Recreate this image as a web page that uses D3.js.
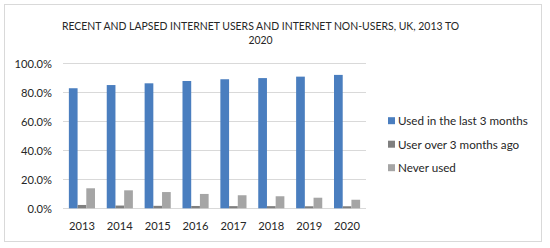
<!DOCTYPE html>
<html><head><meta charset="utf-8">
<script src="https://cdn.jsdelivr.net/npm/d3@7"></script>
<style>body{margin:0;background:#fff}svg{display:block}text{font-family:Lato,"Open Sans",sans-serif;fill:#262626}</style>
</head><body><svg id="c" width="550" height="248"></svg>
<script>
const years = ["2013","2014","2015","2016","2017","2018","2019","2020"];
const seriesNames = ["Used in the last 3 months","User over 3 months ago","Never used"];
const recent = [82.8, 85.0, 86.2, 87.8, 89.0, 89.8, 90.8, 92.0];
const lapsed = [2.3, 1.9, 1.7, 1.6, 1.5, 1.5, 1.4, 1.4];
const never = [13.8, 12.4, 11.2, 9.9, 9.0, 8.3, 7.3, 5.9];
const yTicks = [0, 20, 40, 60, 80, 100];
const colors = ["#4a7ebf", "#7f7f7f", "#a5a5a5"];
const seriesValues = [recent, lapsed, never];

const svg = d3.select("#c");
// font size that makes a string a given width
function fitSize(str, width) {
  const t = svg.append("text").style("font-size","20px").text(str);
  const w = t.node().getComputedTextLength();
  t.remove();
  return 20 * width / w;
}

svg.append("rect").attr("x",4.5).attr("y",4.5).attr("width",537).attr("height",237)
  .attr("fill","#fff").attr("stroke","#d9d9d9");

const titleLine1 = "RECENT AND LAPSED INTERNET USERS AND INTERNET NON-USERS, UK, 2013 TO";
const title = svg.append("text").attr("text-anchor","middle").style("font-size", fitSize(titleLine1, 398)+"px");
title.append("tspan").attr("x",260.5).attr("y",29.5).text(titleLine1);
title.append("tspan").attr("x",260.5).attr("y",44).text("2020");

const x = d3.scaleBand().domain(years).range([63, 366]).paddingInner(0.31).paddingOuter(0.155);
const y = d3.scaleLinear().domain([0,100]).range([208.3, 63.3]);
const xs = d3.scaleBand().domain(d3.range(3)).range([0, x.bandwidth()]);

svg.append("g").selectAll("line").data(yTicks).join("line")
  .attr("x1",63).attr("x2",366).attr("y1",d=>Math.round(y(d))+0.5).attr("y2",d=>Math.round(y(d))+0.5)
  .attr("stroke","#d9d9d9");

const tickSize = fitSize("100.0%", 37.5);
svg.append("g").selectAll("text").data(yTicks).join("text")
  .attr("x",52).attr("y",d=>y(d)+4.5).attr("text-anchor","end").style("font-size",tickSize+"px")
  .text(d=>d.toFixed(1)+"%");

const groups = svg.append("g").selectAll("g").data(years).join("g")
  .attr("transform",d=>`translate(${x(d)},0)`);
groups.selectAll("rect").data((d,i)=>seriesValues.map((s,k)=>({k, v:s[i]}))).join("rect")
  .attr("x",d=>xs(d.k)).attr("width",xs.bandwidth())
  .attr("y",d=>y(d.v)).attr("height",d=>y(0)-y(d.v)).attr("fill",d=>colors[d.k]);

svg.append("g").selectAll("text").data(years).join("text")
  .attr("x",d=>x(d)+x.bandwidth()/2).attr("y",229.5).attr("text-anchor","middle").style("font-size",tickSize+"px")
  .text(d=>d);

const legSize = fitSize(seriesNames[0], 130);
const leg = svg.append("g").selectAll("g").data(seriesNames).join("g")
  .attr("transform",(d,i)=>`translate(388,${120.7+i*23.5})`);
leg.append("rect").attr("x",0).attr("y",-3.5).attr("width",7).attr("height",7).attr("fill",(d,i)=>colors[i]);
leg.append("text").attr("x",10).attr("y",4.5).style("font-size",legSize+"px").text(d=>d);
</script></body></html>
